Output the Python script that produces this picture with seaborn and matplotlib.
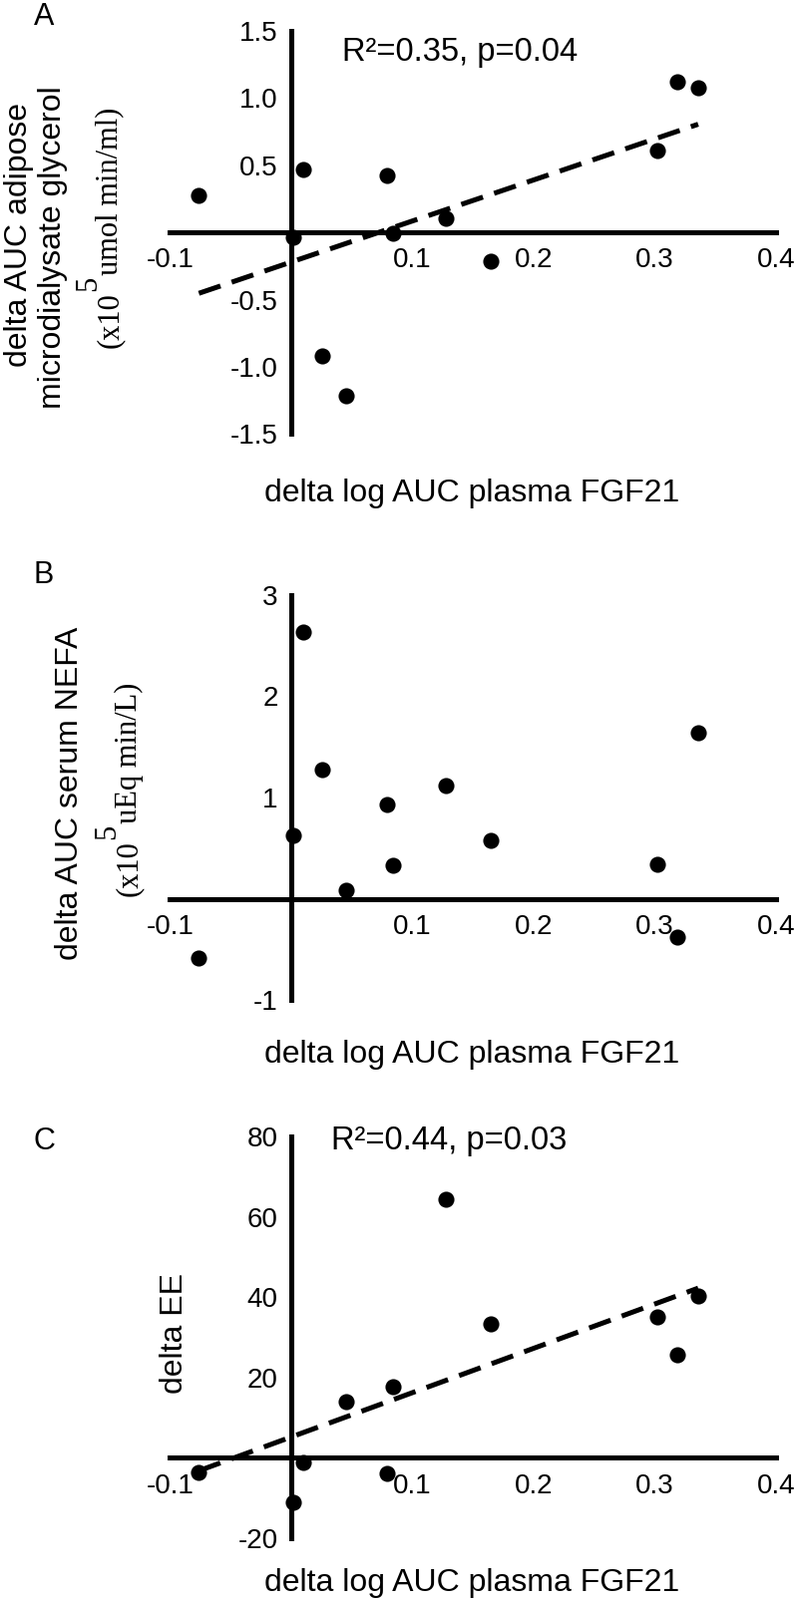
import numpy as np
import pandas as pd
import seaborn as sns
import matplotlib.pyplot as plt

# x values (delta log AUC plasma FGF21), same subjects in every panel
fgf21 = [-0.076, 0.002, 0.0105, 0.026, 0.0455, 0.079, 0.084, 0.128, 0.165, 0.302, 0.319, 0.336]

# panel A: adipose microdialysate glycerol
glycerol = [0.274, -0.037, 0.47, -0.918, -1.217, 0.423, -0.007, 0.105, -0.21, 0.607, 1.125, 1.078]

# panel B: serum NEFA
nefa = [-0.589, 0.629, 2.632, 1.275, 0.083, 0.934, 0.328, 1.116, 0.576, 0.338, -0.381, 1.636]

# panel C: energy expenditure (one subject missing)
fgf21_ee = [-0.076, 0.002, 0.0105, 0.0455, 0.079, 0.084, 0.128, 0.165, 0.302, 0.319, 0.336]
delta_ee = [-3.6, -11.1, -1.2, 14.1, -3.8, 17.6, 64.4, 33.4, 35.1, 25.7, 40.2]

x_ticks = [-0.1, 0.1, 0.2, 0.3, 0.4]
x_ticklabels = ["-0.1", "0.1", "0.2", "0.3", "0.4"]
a_ticks = [-1.5, -1.0, -0.5, 0.5, 1.0, 1.5]
a_ticklabels = ["-1.5", "-1.0", "-0.5", "0.5", "1.0", "1.5"]
b_ticks = [-1, 1, 2, 3]
b_ticklabels = ["-1", "1", "2", "3"]
c_ticks = [-20, 20, 40, 60, 80]
c_ticklabels = ["-20", "20", "40", "60", "80"]

xlabel = "delta log AUC plasma FGF21"

sns.set_style("white")
plt.rcParams['font.family'] = ['Liberation Sans', 'DejaVu Sans']
plt.rcParams['axes.unicode_minus'] = False
plt.rcParams['lines.scale_dashes'] = False
plt.rcParams['text.color'] = 'black'
plt.rcParams['axes.labelcolor'] = 'black'
plt.rcParams['xtick.color'] = 'black'
plt.rcParams['ytick.color'] = 'black'

W, H = 800, 1605
fig = plt.figure(figsize=(W / 100, H / 100), dpi=100)

LW = 3.6


def px_axes(x0, x1, y_top, y_bot):
    # axes rectangle from pixel coordinates (y measured from top)
    return fig.add_axes([x0 / W, (H - y_bot) / H, (x1 - x0) / W, (y_bot - y_top) / H])


def style_axes(ax, ylim, yticks, yticklabels):
    ax.set_xlim(-0.1, 0.4)
    ax.set_ylim(*ylim)
    for side in ["top", "right"]:
        ax.spines[side].set_visible(False)
    for side in ["left", "bottom"]:
        ax.spines[side].set_position(("data", 0))
        ax.spines[side].set_linewidth(LW)
        ax.spines[side].set_color("black")
        ax.spines[side].set_capstyle("projecting")
    ax.set_xticks(x_ticks)
    ax.set_xticklabels(x_ticklabels)
    ax.set_yticks(yticks)
    ax.set_yticklabels(yticklabels)
    ax.tick_params(axis="both", direction="out", length=7.5, width=LW, color="black",
                   labelsize=20, labelcolor="black")
    ax.tick_params(axis="x", pad=3.5)
    ax.tick_params(axis="y", pad=2)
    ax.set_xlabel("")
    ax.set_ylabel("")
    ax.patch.set_alpha(0)


dot_kws = {"s": 135, "color": "black", "alpha": 1, "linewidths": 0, "clip_on": False, "zorder": 5}
fit_kws = {"color": "black", "lw": 3.6, "dashes": (16.5, 8.5), "zorder": 4}

# panel A
axA = px_axes(170.2, 777.7, 31, 435.4)
sns.regplot(x=fgf21, y=glycerol, ax=axA, ci=None, truncate=True,
            scatter_kws=dot_kws, line_kws=fit_kws)
style_axes(axA, (-1.5, 1.5), a_ticks, a_ticklabels)

# panel B
axB = px_axes(170.2, 777.7, 597, 1003)
sns.scatterplot(x=fgf21, y=nefa, ax=axB, **dot_kws)
style_axes(axB, (-1, 3), b_ticks, b_ticklabels)

# panel C
axC = px_axes(170.2, 777.7, 1140, 1543)
sns.regplot(x=fgf21_ee, y=delta_ee, ax=axC, ci=None, truncate=True,
            scatter_kws=dot_kws, line_kws=fit_kws)
style_axes(axC, (-20, 80), c_ticks, c_ticklabels)


def ftext(x, y, s, **kw):
    fig.text(x / W, (H - y) / H, s, **kw)


# panel letters
for letter, yy in [("A", 17), ("B", 577), ("C", 1145)]:
    ftext(44, yy, letter, fontsize=22, ha="center", va="center")

# x labels
for yy in [495, 1058, 1588]:
    ftext(473, yy, xlabel, fontsize=23, ha="center", va="center")

# stats
ftext(343, 53, "R²=0.35, p=0.04", fontsize=23.5, ha="left", va="center")
ftext(332, 1145, "R²=0.44, p=0.03", fontsize=23.5, ha="left", va="center")

# y labels, panel A
ftext(19, 236, "delta AUC adipose", fontsize=23, rotation=90, ha="center", va="center")
ftext(53, 248, "microdialysate glycerol", fontsize=23, rotation=90, ha="center", va="center")
serif = ['Liberation Serif', 'DejaVu Serif']
ftext(110, 349, "(x10", family=serif, fontsize=22, rotation=90, ha="center", va="bottom")
ftext(89, 292, "5", family=serif, fontsize=22, rotation=90, ha="center", va="bottom")
ftext(110, 276, "umol min/ml)", family=serif, fontsize=22, rotation=90, ha="center", va="bottom")

# y labels, panel B
ftext(70, 796, "delta AUC serum NEFA", fontsize=23, rotation=90, ha="center", va="center")
ftext(129, 899, "(x10", family=serif, fontsize=22, rotation=90, ha="center", va="bottom")
ftext(108, 842, "5", family=serif, fontsize=22, rotation=90, ha="center", va="bottom")
ftext(129, 826, "uEq min/L)", family=serif, fontsize=22, rotation=90, ha="center", va="bottom")

# y label, panel C
ftext(175, 1338, "delta EE", fontsize=23, rotation=90, ha="center", va="center")

fig.savefig("out.png", dpi=100, facecolor="white")
